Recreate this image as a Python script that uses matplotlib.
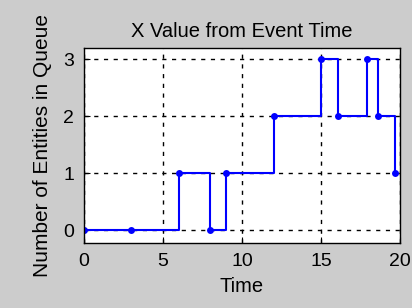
import matplotlib
matplotlib.use("Agg")
import matplotlib.pyplot as plt

times = [0, 3, 6, 8, 9, 12, 15, 16.1, 17.9, 18.6, 19.7]
counts = [0, 0, 1, 0, 1, 2, 3, 2, 3, 2, 1]
xticks = [0, 5, 10, 15, 20]
yticks = [0, 1, 2, 3]

plt.rcParams['font.family'] = ['Liberation Sans', 'DejaVu Sans']

fig = plt.figure(figsize=(4.12, 3.08), dpi=100, facecolor='#cccccc')
ax = fig.add_axes([84/412, 1 - 243/308, (400-84)/412, (243-48)/308])
ax.set_facecolor('white')
ax.plot(times, counts, drawstyle='steps-post', color='#0000ff', lw=1.5,
        marker='o', markersize=5, markeredgewidth=0)
ax.set_xlim(0, 20)
ax.set_ylim(-0.22, 3.2)
ax.set_xticks(xticks)
ax.set_yticks(yticks)
ax.grid(True, color='black', linestyle=(0, (3, 4)), linewidth=1)
ax.tick_params(direction='in', length=4, labelsize=14, colors='black', pad=7)
for s in ax.spines.values():
    s.set_linewidth(1)
    s.set_color('black')
ax.set_title('X Value from Event Time', fontsize=14.5, pad=8)
ax.set_xlabel('Time', fontsize=14.5, labelpad=5)
ax.set_ylabel('Number of Entities in Queue', fontsize=15, labelpad=8)
fig.savefig('out.png', dpi=100, facecolor=fig.get_facecolor())
